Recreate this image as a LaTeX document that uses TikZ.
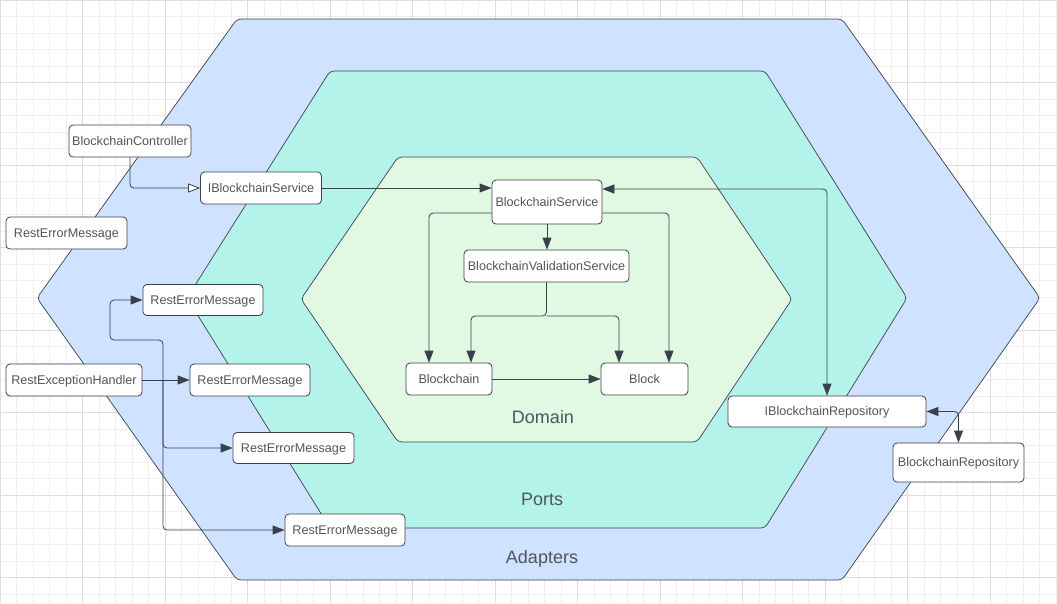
\documentclass[tikz,border=0pt]{standalone}
\usepackage{fontspec}
\setmainfont{Liberation Sans}
\usetikzlibrary{arrows.meta}
\definecolor{gridminor}{HTML}{EEEEEE}
\definecolor{gridmajor}{HTML}{DCDCDC}
\definecolor{adaptfill}{HTML}{CFE2FF}
\definecolor{portfill}{HTML}{B4F3EA}
\definecolor{domfill}{HTML}{E1F9E3}
\definecolor{linec}{HTML}{3A414A}
\definecolor{textc}{HTML}{50555D}
\tikzset{
  tip/.tip={Triangle[length=12pt,width=9pt]},
  hexa/.style={draw=linec, line width=0.7pt, rounded corners=4pt, line join=round},
  box/.style={draw=linec, fill=white, rounded corners=4pt, line width=0.8pt, inner sep=0pt,
    font=\fontsize{12.6}{14}\selectfont, text=textc, text height=10pt, text depth=1.4pt},
  zone/.style={font=\fontsize{18}{20}\selectfont, text=textc},
  edge/.style={draw=linec, line width=0.8pt, rounded corners=4pt, -tip},
  twoway/.style={draw=linec, line width=0.8pt, rounded corners=4pt, tip-tip},
  realize/.style={draw=linec, line width=0.8pt, rounded corners=4pt, -{Triangle[open,length=12pt,width=9pt,fill=white]}}
}
\begin{document}
\begin{tikzpicture}[x=1pt,y=-1pt]
\useasboundingbox (0,0) rectangle (1057,603);
\fill[white] (0,0) rectangle (1057,603);
% grid
\foreach \i in {0,...,64} { \draw[gridminor, line width=0.6pt] (\i*16.5,0) -- (\i*16.5,603); }
\foreach \j in {0,...,37} { \draw[gridminor, line width=0.6pt] (0,\j*16.5) -- (1057,\j*16.5); }
\foreach \i in {0,...,12} { \draw[gridmajor, line width=0.8pt] (\i*82.5,0) -- (\i*82.5,603); }
\foreach \j in {0,...,7} { \draw[gridmajor, line width=0.8pt] (0,\j*82.5) -- (1057,\j*82.5); }
% zones
\filldraw[hexa, fill=adaptfill] (237,19) -- (842,19) -- (1040,298) -- (842,580) -- (237,580) -- (37,298) -- cycle;
\filldraw[hexa, fill=portfill] (330,71) -- (765,71) -- (907,298) -- (765,528) -- (330,528) -- (187,298) -- cycle;
\filldraw[hexa, fill=domfill] (398,157) -- (697,157) -- (792,299) -- (697,442) -- (398,442) -- (301,299) -- cycle;
\node[zone] (ldom) at (543,417) {Domain};
\node[zone] (lport) at (542,499) {Ports};
\node[zone] (ladapt) at (542,559) {Adapters};
% nodes
\node[box, minimum width=122pt, minimum height=32pt] (ctrl) at (130,141) {BlockchainController};
\node[box, minimum width=121pt, minimum height=32pt] (isvc) at (261,188) {IBlockchainService};
\node[box, minimum width=121pt, minimum height=32pt] (rem1) at (66.5,233) {RestErrorMessage};
\node[box, minimum width=120pt, minimum height=31pt] (rem2) at (203,300) {RestErrorMessage};
\node[box, minimum width=136pt, minimum height=32pt] (handler) at (74,380) {RestExceptionHandler};
\node[box, minimum width=120pt, minimum height=32pt] (rem3) at (250,380) {RestErrorMessage};
\node[box, minimum width=121pt, minimum height=31pt] (rem4) at (293.5,448) {RestErrorMessage};
\node[box, minimum width=120pt, minimum height=32pt] (rem5) at (345,530) {RestErrorMessage};
\node[box, minimum width=110pt, minimum height=44pt] (bsvc) at (547,202) {BlockchainService};
\node[box, minimum width=165pt, minimum height=32pt] (bvs) at (546.5,266) {BlockchainValidationService};
\node[box, minimum width=86pt, minimum height=32pt] (chain) at (449,379) {Blockchain};
\node[box, minimum width=87pt, minimum height=32pt] (block) at (644.5,379) {Block};
\node[box, minimum width=198pt, minimum height=31pt] (irepo) at (827,411.5) {IBlockchainRepository};
\node[box, minimum width=131pt, minimum height=39pt] (brepo) at (958.5,462.5) {BlockchainRepository};
% connectors
\draw[realize] (ctrl.south) |- (isvc.west);
\draw[edge] (isvc.east) -- (isvc.east -| bsvc.west);
\draw[twoway] ([yshift=13pt]bsvc.east) -| (irepo.north);
\draw[edge] ([yshift=-11pt]bsvc.west) -| ([xshift=-20pt]chain.north);
\draw[edge] ([yshift=-11pt]bsvc.east) -| ([xshift=24.5pt]block.north);
\draw[edge] (bsvc.south) -- (bsvc.south |- bvs.north);
\coordinate (split) at (546.5,316);
\draw[edge] (bvs.south) -- (split) -| ([xshift=22pt]chain.north);
\draw[edge] (split) -| ([xshift=-25.5pt]block.north);
\draw[edge] (chain.east) -- (block.west);
\draw[twoway] (irepo.east) -| (brepo.north);
\coordinate (hub) at (163,380);
\coordinate (h1) at (110,340);
\draw[edge] (handler.east) -- (rem3.west);
\draw[edge] (hub) |- (h1) |- (rem2.west);
\draw[edge] (hub) |- (rem4.west);
\draw[edge] (hub) |- (rem5.west);
\end{tikzpicture}
\end{document}
